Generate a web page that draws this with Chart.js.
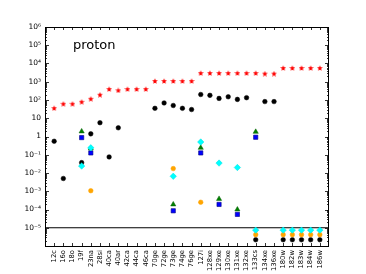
<!DOCTYPE html>
<html><head><meta charset="utf-8">
<script src="https://cdn.jsdelivr.net/npm/chart.js@4/dist/chart.umd.min.js"></script>
<style>html,body{margin:0;padding:0;background:#fff}#wrap{width:366px;height:274px;position:relative}</style>
</head><body><div id="wrap"><canvas id="c" width="366" height="274"></canvas></div>
<script>
const categories = ['12c','16o','18o','19f','23na','28si','40ca','40ar','42ca','44ca','46ca','70ge','72ge','73ge','74ge','76ge','127i','128xe','129xe','130xe','131xe','132xe','133cs','134xe','136xe','180w','182w','183w','184w','186w'];
const redStars = [36,62,62,80,117,195,400,340,400,400,400,1100,1100,1100,1100,1100,3000,3000,3000,3000,3000,3000,3000,2800,2800,5700,5700,5700,5700,5700];
const blackDots = [0.55,0.005,null,0.037,1.4,5.7,0.076,3.0,null,null,null,35,69,50,35,30,200,180,122,150,108,134,2.2e-6,82,82,2.2e-6,2.2e-6,2.2e-6,2.2e-6,2.2e-6];
const greenTri = [null,null,null,1.9,0.22,null,null,null,null,null,null,null,null,1.9e-4,null,null,0.24,null,3.8e-4,null,1.0e-4,null,1.8,null,null,null,null,null,null,null];
const blueSq = [null,null,null,0.87,0.126,null,null,null,null,null,null,null,null,8.5e-5,null,null,0.126,null,1.9e-4,null,5.4e-5,null,0.91,null,null,null,null,null,null,null];
const cyanDia = [null,null,null,0.024,0.24,null,null,null,null,null,null,null,null,0.0066,null,null,0.5,null,0.035,null,0.020,null,7.4e-6,null,null,7.4e-6,7.4e-6,7.4e-6,7.4e-6,7.4e-6];
const orangeDots = [null,null,null,null,1.07e-3,null,null,null,null,null,null,null,null,0.0175,null,null,2.5e-4,null,null,null,null,null,4.2e-6,null,null,4.2e-6,4.2e-6,4.2e-6,4.2e-6,4.2e-6];
const thresholdLevel = 1e-5;
const yTickValues = [1e-6,1e-5,1e-4,1e-3,1e-2,1e-1,1,10,100,1e3,1e4,1e5,1e6];
const title = 'proton';

function pts(arr){ const o=[]; arr.forEach((v,i)=>{ if(v!==null) o.push({x:i,y:v}); }); return o; }

function starImg(color,size){
  const c=document.createElement('canvas'); c.width=size; c.height=size;
  const g=c.getContext('2d'); const cx=size/2, cy=size/2+0.3, R=size/2, r=R*0.45;
  g.beginPath();
  for(let k=0;k<10;k++){ const a=-Math.PI/2+k*Math.PI/5; const rr=k%2?r:R; g.lineTo(cx+rr*Math.cos(a), cy+rr*Math.sin(a)); }
  g.closePath(); g.fillStyle=color; g.fill();
  return c;
}
const sup = {'0':'⁰','1':'¹','2':'²','3':'³','4':'⁴','5':'⁵','6':'⁶','7':'⁷','8':'⁸','9':'⁹','-':'⁻'};
function fmtY(v){
  const e=Math.round(Math.log10(v));
  if(e===0) return '1'; if(e===1) return '10'; if(e===-6) return '';
  return '10'+String(e).split('').map(ch=>sup[ch]).join('');
}

const tickPlugin = {
  id:'mplTicks',
  afterDraw(chart){
    const {ctx, chartArea:a, scales:{x,y}} = chart;
    ctx.save(); ctx.strokeStyle='#000'; ctx.lineWidth=1;
    ctx.strokeRect(Math.round(a.left)+0.5, Math.round(a.top)+0.5, Math.round(a.right-a.left)-1, Math.round(a.bottom-a.top));
    ctx.lineWidth=0.8;
    ctx.beginPath();
    for(let i=0;i<categories.length;i++){
      const px=Math.round(x.getPixelForValue(i))+0.5;
      ctx.moveTo(px,a.top); ctx.lineTo(px,a.top+3);
      ctx.moveTo(px,a.bottom); ctx.lineTo(px,a.bottom-3);
    }
    for(let e=-6;e<=6;e++){
      for(let m=1;m<10;m++){
        const v=m*Math.pow(10,e); if(v>1e6) break;
        const py=Math.round(y.getPixelForValue(v))+0.5;
        const len = m===1?4:2;
        ctx.moveTo(a.left,py); ctx.lineTo(a.left+len,py);
        ctx.moveTo(a.right,py); ctx.lineTo(a.right-len,py);
      }
    }
    ctx.stroke();
    ctx.fillStyle='#000'; ctx.font='13px "DejaVu Sans"'; ctx.textAlign='left'; ctx.textBaseline='middle';
    ctx.fillText(title, x.getPixelForValue(2.05), y.getPixelForValue(1e5));
    ctx.restore();
  }
};

new Chart(document.getElementById('c'), {
  type:'scatter',
  data:{datasets:[
    {label:'thr', type:'line', data:[{x:-1,y:thresholdLevel},{x:30,y:thresholdLevel}], borderColor:'#000', borderWidth:1, pointRadius:0, order:10},
    {label:'cyan', data:pts(cyanDia), pointStyle:'rectRot', pointRadius:3.2, backgroundColor:'#00ffff', borderColor:'#00e0e0', borderWidth:0.5, order:0},
    {label:'green', data:pts(greenTri), pointStyle:'triangle', pointRadius:3, backgroundColor:'#008000', borderColor:'#006000', borderWidth:0.5, order:1},
    {label:'blue', data:pts(blueSq), pointStyle:'rect', pointRadius:3, backgroundColor:'#0000ff', borderColor:'#000080', borderWidth:0.6, order:3},
    {label:'orange', data:pts(orangeDots), pointStyle:'circle', pointRadius:2.3, backgroundColor:'#ffa500', borderColor:'#ffa500', borderWidth:0.5, order:4},
    {label:'black', data:pts(blackDots), pointStyle:'circle', pointRadius:2.3, backgroundColor:'#000', borderColor:'#000', borderWidth:0.5, order:5},
    {label:'red', data:pts(redStars), pointStyle:starImg('#ff0000',6), pointRadius:3, backgroundColor:'#f00', borderColor:'#f00', order:6}
  ]},
  options:{
    responsive:false, animation:false, events:[],
    layout:{padding:{left:0,right:37,top:27,bottom:0}},
    plugins:{legend:{display:false}, tooltip:{enabled:false}},
    scales:{
      x:{type:'linear', min:-1, max:30,
        afterBuildTicks(s){ s.ticks = categories.map((_,i)=>({value:i})); },
        afterFit(s){ s.height = 28; },
        grid:{display:false, drawTicks:false}, border:{display:false},
        ticks:{autoSkip:false, minRotation:90, maxRotation:90, padding:4, color:'#000',
          font:{family:'DejaVu Sans', size:6.8},
          callback:(v)=>categories[v] ?? ''}
      },
      y:{type:'logarithmic', min:1e-6, max:1e6,
        afterBuildTicks(s){ s.ticks = yTickValues.map(v=>({value:v})); },
        afterFit(s){ s.width = 45; },
        grid:{display:false, drawTicks:false}, border:{display:false},
        ticks:{autoSkip:false, padding:4, color:'#000', font:{family:'DejaVu Sans', size:7.5},
          callback:(v)=>fmtY(v)}
      }
    }
  },
  plugins:[tickPlugin]
});
</script></body></html>
